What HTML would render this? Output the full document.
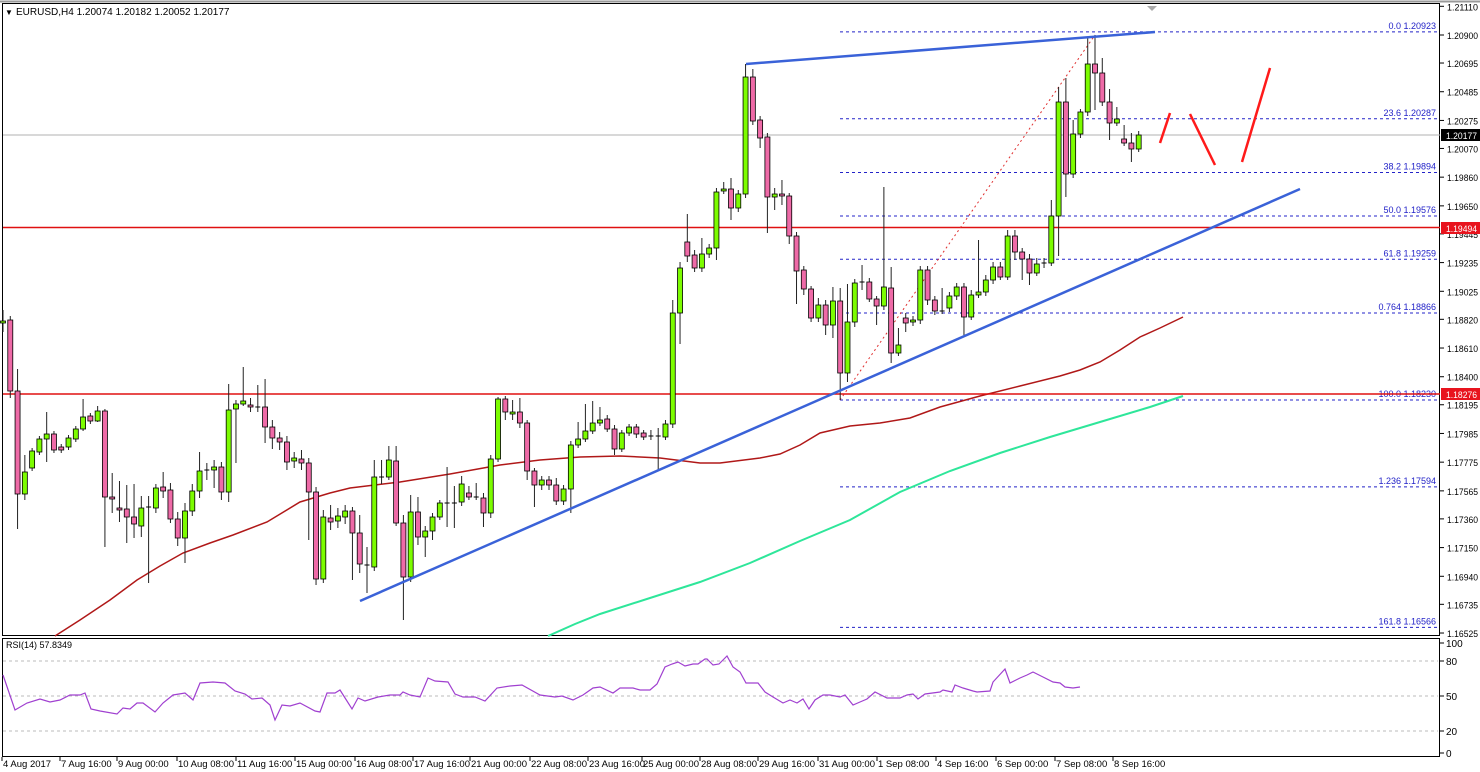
<!DOCTYPE html>
<html><head><meta charset="utf-8"><style>
html,body{margin:0;padding:0;background:#fff;}
svg{display:block;font-family:"Liberation Sans",sans-serif;}
</style></head><body>
<svg id="s" width="1480" height="772" xmlns="http://www.w3.org/2000/svg"></svg>
<script>
var s=document.getElementById('s');var o='';
function L(x1,y1,x2,y2,c,w,d){o+='<line x1="'+x1+'" y1="'+y1+'" x2="'+x2+'" y2="'+y2+'" stroke="'+c+'" stroke-width="'+(w||1)+'"'+(d?' stroke-dasharray="'+d+'"':'')+'/>';}
function T(x,y,t,c,sz,a,tl){o+='<text x="'+x+'" y="'+y+'" fill="'+(c||'#000')+'" font-size="'+(sz||10)+'"'+(a?' text-anchor="'+a+'"':'')+(tl?' textLength="'+tl+'" lengthAdjust="spacingAndGlyphs"':'')+'>'+t+'</text>';}
function P(pts,c,w,d){o+='<polyline fill="none" stroke="'+c+'" stroke-width="'+w+'"'+(d?' stroke-dasharray="'+d+'"':'')+' points="'+pts.map(function(p){return p.join(',')}).join(' ')+'"/>';}
function Y(p){return 35+(1.209-p)*13669;}
L(0,1.5,1480,1.5,'#999',2);
o+='<rect x="2.5" y="3.5" width="1437" height="632" fill="none" stroke="#000"/>';
o+='<rect x="2.5" y="638.5" width="1437" height="118" fill="none" stroke="#000"/>';
o+='<polygon points="1147,6 1157,6 1152,11" fill="#aaa"/>';
var fib=[[1.20923,'0.0 1.20923'],[1.20287,'23.6 1.20287'],[1.19894,'38.2 1.19894'],[1.19576,'50.0 1.19576'],[1.19259,'61.8 1.19259'],[1.18866,'0.764 1.18866'],[1.18230,'100.0 1.18230'],[1.17594,'1.236 1.17594'],[1.16566,'161.8 1.16566']];
fib.forEach(function(f){var y=Y(f[0]);L(840,y,1438,y,'#2323c8',1,'3,3');T(1436,y-3,f[1],'#2323c8',9,'end');});
L(3,135,1440,135,'#b0b0b0',1);
P([[55,636],[80,620],[110,600],[137,580],[160,566],[183,553],[210,543],[233,535],[267,522],[300,502],[330,493],[350,488],[400,482],[450,474],[500,465],[540,460],[580,457],[620,456],[660,458],[700,463],[720,463],[760,458],[780,454],[800,445],[820,433],[850,426],[880,423],[910,418],[940,407],[980,396],[1020,386],[1060,376],[1080,370],[1100,362],[1120,350],[1140,337],[1160,328],[1183,317]],'#b01818',1.5);
P([[548,636],[575,624],[600,614],[650,598],[700,582],[750,563],[800,541],[850,520],[900,492],[950,471],[1000,453],[1050,437],[1100,422],[1150,407],[1183,396]],'#2ee69a',2);
L(3,227.5,1440,227.5,'#e01010',1.6);L(3,394,1440,394,'#e01010',1.6);
L(840,400,1095,35,'#e03030',1,'2,3');
var C=[[323,321,310,332],[320,391,316,398],[391,494,369,529],[494,472,455,500],[468,451],[452,439],[439,434,412,462],[434,450],[447,450],[447,438],[439,429],[429,417,399,431],[416,421],[421,411,406,422],[411,497,409,547],[497,499,473,513],[508,510,481,522],[509,517,485,543],[517,524,484,538],[526,508,496,537],[507,507.5,496,583],[508,488,484,513],[487,491,472,498],[490,519,483,523],[519,538,512,546],[538,511,503,563],[511,491,484,516],[491,471,452,498],[470,470.5,463,480],[470,467,460,488],[467,492,462,500],[492,410,384,502],[409,404,400,463],[404,401,367,406],[405,407,398,412],[407,407.5,385,412],[407,427,379,443],[427,438,420,449],[438,442,432,450],[442,462,436,470],[461,458,452,468],
[459,463,450,470],[463,492,458,540],[492,579,487,585],[579,517,510,583],[518,522,505,530],[521,516,508,528],[517,511,505,524],[511,533,507,580],[533,564,515,573],[565,565.5,547,593],[567,477,460,571],[477,477.5,460,484],[477,460,446,480],[461,523,446,526],[523,577,515,620],[577,512,495,582],[512,537,497,545],[537,531,526,557],[531,517,513,540],[517,503,500,520],[503,503.5,467,527],[503,503.5,486,528],[502,484,476,506],[493,497,486,500],[497,497.5,483,500],[498,513,493,527],[513,459,455,518],[459,399,397,462],[399,412,396,420],[414,412,400,420],[412,423,398,428],[423,471,420,480],[471,485,468,507],[485,480,476,490],[480,485,476,490],[485,501,478,505],[501,489,485,505],[489,445,441,513],[445,439,422,448],[439,431,404,442],[431,423,401,434],[423,420,407,426],[419,429,415,432],[429,449,425,455],[449,433,430,452],[433,427,424,436],[427,434,424,438],[433,437,430,440],[436,436.5,430,440],[436,436.5,428,470],[437,424,420,440],
[424,313,300,428],[313,268,262,344],[242,256,214,262],[255,268,250,272],[268,254,238,272],[254,248,244,258],[248,192,188,260],[191,189,182,194],[189,208,178,220],[208,194,190,212],[194,77,64,198],[77,121,69,125],[120,138,116,148],[137,197,133,233],[197,194,188,210],[194,196,180,205],[196,236,193,244],[236,271,232,304],[270,289,266,295],[289,318,286,322],[318,305,298,322],[305,325,300,335],[325,301,287,338],[301,373,288,400],[373,322,284,382],[322,283,279,327],[282,282.5,265,290],[282,299,278,302],[299,306,296,325],[306,287,187,310],[288,353,267,363],[353,345,328,356],[318,323,313,332],[322,320,316,326],[320,270,266,324],[270,300,266,305],[300,311,296,315],[311,311.5,288,314],[308,296,292,312],[296,287,283,300],[287,317,283,335],[317,295,290,320],[295,292,240,298],[292,280,275,296],[280,267,262,284],[267,277,262,280],[277,236,230,280],[236,252,230,260],[252,259,248,280],[259,273,254,285],[273,264,258,276],[263,263.5,258,268],[263,216,200,266],[216,102,87,256],[102,174,78,197],[174,134,120,178],[134,112,109,138],[112,64,37,116],[64,73,35,110],[73,102,58,106],[102,123,89,140],[123,119,107,126],[139,143,125,146],[143,149,133,162],[149,135,131,152]];
C.forEach(function(c,i){var x=3+7.28*i,op=c[0],cl=c[1],t=Math.min(op,cl),b=Math.max(op,cl);var h=c[2]!==undefined?c[2]:t-3,l=c[3]!==undefined?c[3]:b+3;
L(x,h,x,l,'#222',1);var bh=Math.max(b-t,1);
if(Math.abs(b-t)<1){L(x-2.5,t,x+2.5,t,'#000',1);}else{o+='<rect x="'+(x-2.5)+'" y="'+t+'" width="5" height="'+bh+'" fill="'+(cl<op?'#7cfc00':'#ee6aa7')+'" stroke="#000" stroke-width="0.8"/>';}});
L(360,601,1300,189,'#3a62d8',2.5);L(746,64,1155,32,'#3a62d8',2.5);
L(1160,143,1170,113,'#ff1a1a',2.5);L(1190,114,1215,165,'#ff1a1a',2.5);L(1242,162,1270,68,'#ff1a1a',2.5);
var ax=[1.21110,1.20900,1.20695,1.20485,1.20275,1.20070,1.19860,1.19650,1.19445,1.19235,1.19025,1.18820,1.18610,1.18400,1.18195,1.17985,1.17775,1.17565,1.17360,1.17150,1.16940,1.16735,1.16525];
ax.forEach(function(p){var y=Y(p);L(1440,y,1444,y,'#000');T(1447,y+4,p.toFixed(5),'#000',9.5,null,31);});
function box(y,t,bg){o+='<rect x="1441" y="'+(y-6)+'" width="39" height="12" fill="'+bg+'"/>';T(1446,y+4,t,'#fff',9.5,null,31);}
box(135,'1.20177','#000');box(228,'1.19494','#e8141e');box(394,'1.18276','#e8141e');
T(5,15,'▼','#000',8);T(16,15,'EURUSD,H4  1.20074 1.20182 1.20052 1.20177','#000',10);
[661,696,731].forEach(function(y){L(3,y,1438,y,'#bbb',1,'3,3');});
T(6,648,'RSI(14) 57.8349','#000',9);
[[100,643],[80,661],[50,696],[20,731],[0,753]].forEach(function(a){L(1440,a[1],1444,a[1],'#000');T(1446,a[1]+4,a[0],'#000',10);});
P([[3,675],[15,710],[27,703],[40,699],[50,702],[60,700],[70,695],[80,695],[85,693],[91,709],[100,711],[117,714],[123,708],[130,709],[137,703],[143,703],[155,712],[163,703],[173,695],[185,693],[193,700],[200,683],[213,682],[225,683],[235,691],[245,694],[252,699],[262,698],[270,705],[275,720],[282,705],[290,706],[300,703],[315,711],[320,712],[327,693],[335,693],[340,690],[352,709],[358,698],[365,701],[378,697],[390,695],[400,695],[403,692],[410,695],[420,697],[428,678],[435,681],[448,682],[455,694],[463,697],[475,697],[485,701],[497,688],[510,686],[522,685],[540,695],[555,697],[562,696],[573,700],[583,695],[593,688],[600,687],[613,693],[620,688],[633,688],[640,690],[650,690],[657,684],[665,667],[672,664],[678,662],[685,666],[693,664],[698,664],[705,659],[707,659],[713,665],[719,664],[727,656],[733,667],[740,672],[746,683],[758,683],[765,692],[773,697],[783,703],[790,700],[797,703],[803,699],[809,709],[815,700],[823,695],[830,695],[840,697],[845,695],[853,705],[860,702],[867,699],[875,692],[887,698],[900,698],[907,695],[913,694],[918,699],[925,694],[940,692],[943,690],[952,692],[955,685],[963,688],[973,691],[977,692],[990,691],[993,682],[1005,669],[1010,683],[1020,678],[1027,675],[1033,672],[1043,677],[1053,682],[1060,683],[1065,687],[1073,688],[1080,687]],'#a040d0',1.2);
var tl=[[2,'4 Aug 2017'],[60,'7 Aug 16:00'],[117,'9 Aug 00:00'],[177,'10 Aug 08:00'],[236,'11 Aug 16:00'],[295,'15 Aug 00:00'],[355,'16 Aug 08:00'],[413,'17 Aug 16:00'],[470,'21 Aug 00:00'],[530,'22 Aug 08:00'],[588,'23 Aug 16:00'],[642,'25 Aug 00:00'],[700,'28 Aug 08:00'],[758,'29 Aug 16:00'],[818,'31 Aug 00:00'],[877,'1 Sep 08:00'],[936,'4 Sep 16:00'],[996,'6 Sep 00:00'],[1055,'7 Sep 08:00'],[1113,'8 Sep 16:00']];
tl.forEach(function(t){L(t[0],757,t[0],761,'#000');T(t[0]+1,767,t[1],'#000',9.5);});
s.innerHTML=o;
</script>
</body></html>
